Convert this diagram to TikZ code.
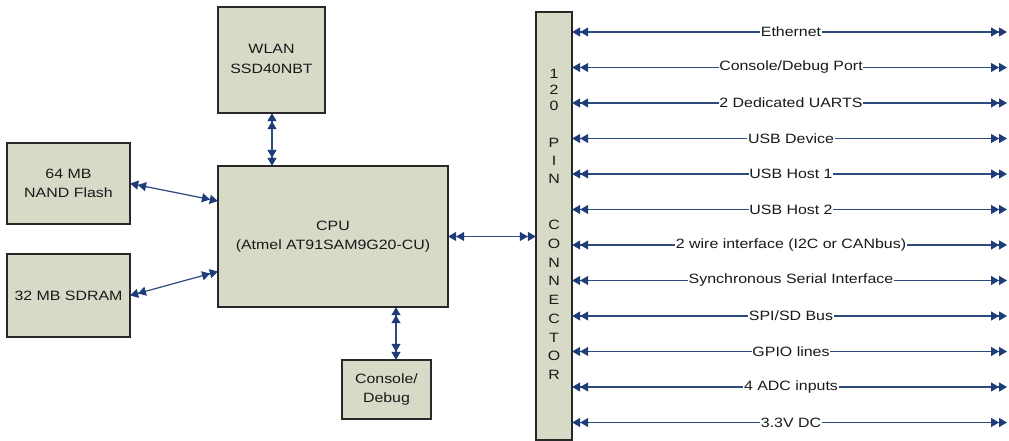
\documentclass[tikz,border=0pt]{standalone}
\usepackage{fontspec}
\setmainfont[FakeStretch=1.18]{Liberation Sans}
\usetikzlibrary{arrows.meta}
\definecolor{boxfill}{RGB}{216,218,200}
\definecolor{boxline}{RGB}{40,40,40}
\definecolor{wire}{RGB}{45,75,125}
\definecolor{tipc}{RGB}{30,60,120}
\tikzset{
  tp/.tip={Triangle[length=8pt,width=9pt,fill=tipc,color=tipc]},
  blk/.style={draw=boxline, line width=1.3pt, fill=boxfill},
  lbl/.style={font=\fontsize{13.5}{19.5}\selectfont, align=center, text=black!90},
  bi/.style={draw=wire, line width=1.2pt, {tp[]tp[]}-{tp[]tp[]}},
  buslbl/.style={font=\fontsize{13.5}{15}\selectfont, fill=white, inner xsep=0.6pt, inner ysep=1pt, text=black!90},
  pinlbl/.style={font=\fontsize{13.5}{15}\selectfont, text=black!90, inner sep=0pt},
  area/.style={inner sep=0pt}
}
\begin{document}
\begin{tikzpicture}[x=1pt,y=-1pt]
\useasboundingbox (0,0) rectangle (1009,441);
\fill[white] (0,0) rectangle (1009,441);
% boxes
\draw[blk] (218,7) rectangle (325,113);
\node[area, minimum width=107pt, minimum height=106pt] (wlan) at (271.5,60) {};
\node[lbl] (wlant) at (271.5,59) {WLAN\\SSD40NBT};
\draw[blk] (7,143) rectangle (130,224);
\node[area, minimum width=123pt, minimum height=81pt] (nand) at (68.5,183.5) {};
\node[lbl] (nandt) at (nand.center) {64 MB\\NAND Flash};
\draw[blk] (7,254) rectangle (130,337);
\node[area, minimum width=123pt, minimum height=83pt] (sdram) at (68.5,295.5) {};
\node[lbl] (sdramt) at (sdram.center) {32 MB SDRAM};
\draw[blk] (218,166) rectangle (448,307);
\node[area, minimum width=230pt, minimum height=141pt] (cpu) at (333,236.5) {};
\node[lbl] (cput) at (cpu.center) {CPU\\(Atmel AT91SAM9G20-CU)};
\draw[blk] (342,360) rectangle (431,419);
\node[area, minimum width=89pt, minimum height=59pt] (con) at (386.5,389.5) {};
\node[lbl] (cont) at (con.center) {Console/\\Debug};
\draw[blk] (536,12) rectangle (572,440);
\node[area, minimum width=36pt, minimum height=428pt] (pin) at (554,226) {};
% connector letters
\foreach \ch/\yy [count=\i] in {1/74,2/90,0/106,P/143,I/161,N/179,C/225,O/244,N/262.5,N/281,E/300,C/319,T/338,O/356,R/375}
  \node[pinlbl] (pl\i) at (554,\yy) {\ch};
% connections
\draw[bi] (wlan.south -| 272,0) -- (cpu.north -| 272,0);
\draw[bi] (nand.east) -- ([yshift=35.5pt]cpu.west);
\draw[bi] (sdram.east) -- ([yshift=-35pt]cpu.west);
\draw[bi] (cpu.south -| 396,0) -- (con.north -| 396,0);
\draw[bi] (cpu.east) -- (cpu.east -| pin.west);
% bus lines
\foreach \t [count=\i from 0] in {Ethernet,Console/Debug Port,2 Dedicated UARTS,USB Device,USB Host 1,USB Host 2,2 wire interface (I2C or CANbus),Synchronous Serial Interface,SPI/SD Bus,GPIO lines,4 ADC inputs,3.3V DC}{
  \pgfmathsetmacro{\yy}{32+35.5*\i}
  \coordinate (e\i) at (1007,\yy);
  \draw[bi] (pin.east |- e\i) -- (e\i);
  \node[buslbl] (b\i) at (791,\yy) {\t};
}
\end{tikzpicture}
\end{document}
